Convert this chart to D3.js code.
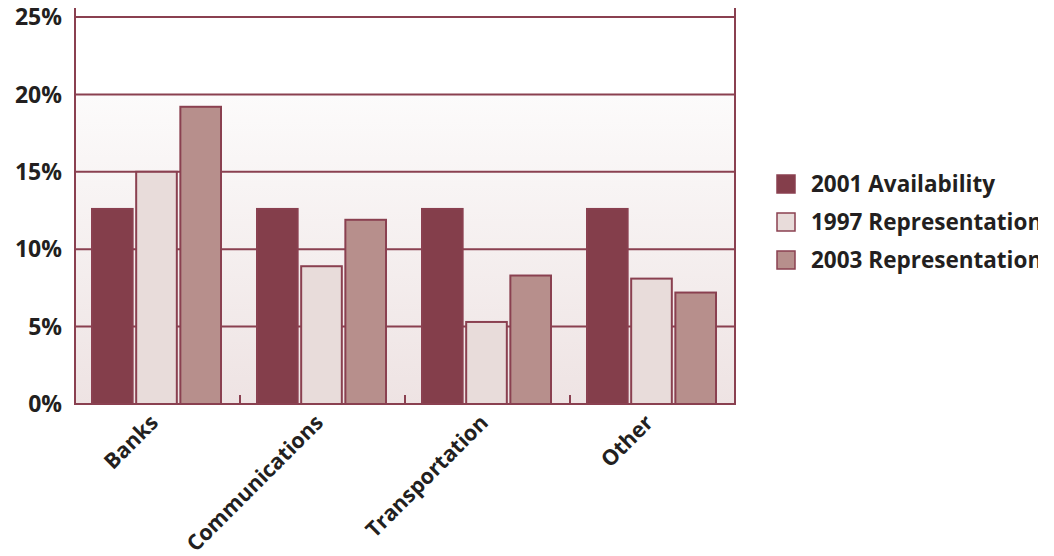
<!DOCTYPE html>
<html>
<head>
<meta charset="utf-8">
<script src="https://cdn.jsdelivr.net/npm/d3@7"></script>
<style>
  html, body { margin: 0; padding: 0; background: #fff; }
  svg { display: block; }
  text { font-family: "Open Sans", "Noto Sans", sans-serif; font-weight: 700; fill: #231f20; }
</style>
</head>
<body>
<svg id="chart" width="1054" height="556"></svg>
<script>
// Sector shares (%)
const categories = ["Banks", "Communications", "Transportation", "Other"];
const seriesNames = ["2001 Availability", "1997 Representation", "2003 Representation"];
const availability2001 = [12.6, 12.6, 12.6, 12.6];
const representation1997 = [15.0, 8.9, 5.3, 8.1];
const representation2003 = [19.2, 11.9, 8.3, 7.2];
const yTicks = [0, 5, 10, 15, 20, 25];

const seriesValues = [availability2001, representation1997, representation2003];
const fills = ["#843e4b", "#e8dcda", "#b78f8c"];
const lineColor = "#8a4050";

const svg = d3.select("#chart");
const W = 1054, H = 556;
const m = { left: 75, right: 735, top: 17, bottom: 404 };

const x = d3.scaleBand().domain(categories).range([m.left, m.right]).paddingInner(0).paddingOuter(0);
const xs = d3.scaleBand().domain(seriesNames).range([17, x.bandwidth() - 19]).paddingInner(0.08);
const y = d3.scaleLinear().domain([0, 25]).range([m.bottom, m.top]);

// Clip everything at the right page edge
svg.append("defs").append("clipPath").attr("id", "pageClip")
  .append("rect").attr("x", 0).attr("y", 0).attr("width", 1038).attr("height", H);

const grad = svg.select("defs").append("linearGradient")
  .attr("id", "bgGrad").attr("x1", 0).attr("y1", 0).attr("x2", 0).attr("y2", 1);
grad.append("stop").attr("offset", "0%").attr("stop-color", "#fcfbfb");
grad.append("stop").attr("offset", "100%").attr("stop-color", "#eee3e3");

const root = svg.append("g").attr("clip-path", "url(#pageClip)");

// Shaded plot background below the 20% line
root.append("rect")
  .attr("x", m.left).attr("y", y(20))
  .attr("width", m.right - m.left).attr("height", y(0) - y(20))
  .attr("fill", "url(#bgGrad)");

// Horizontal gridlines
root.append("g").selectAll("line").data(yTicks.filter(d => d > 0)).join("line")
  .attr("x1", m.left).attr("x2", m.right)
  .attr("y1", d => y(d)).attr("y2", d => y(d))
  .attr("stroke", lineColor).attr("stroke-width", 2);

// Category tick marks on the baseline
root.append("g").selectAll("line").data(categories.slice(1)).join("line")
  .attr("x1", d => x(d)).attr("x2", d => x(d))
  .attr("y1", m.bottom).attr("y2", m.bottom - 9)
  .attr("stroke", lineColor).attr("stroke-width", 2);

// Bars
const groups = root.append("g").selectAll("g").data(categories).join("g")
  .attr("transform", d => `translate(${x(d)},0)`);
groups.selectAll("rect")
  .data((c, ci) => seriesNames.map((s, si) => ({ s, si, v: seriesValues[si][ci] })))
  .join("rect")
  .attr("x", d => xs(d.s))
  .attr("width", xs.bandwidth())
  .attr("y", d => y(d.v))
  .attr("height", d => y(0) - y(d.v))
  .attr("fill", d => fills[d.si])
  .attr("stroke", lineColor).attr("stroke-width", 2);

// Frame: left / right verticals and baseline
root.append("line").attr("x1", m.left).attr("x2", m.left).attr("y1", 8).attr("y2", m.bottom + 1)
  .attr("stroke", lineColor).attr("stroke-width", 2);
root.append("line").attr("x1", m.right).attr("x2", m.right).attr("y1", 8).attr("y2", m.bottom + 1)
  .attr("stroke", lineColor).attr("stroke-width", 2);
root.append("line").attr("x1", m.left).attr("x2", m.right).attr("y1", m.bottom).attr("y2", m.bottom)
  .attr("stroke", lineColor).attr("stroke-width", 2);

// Y tick labels
root.append("g").selectAll("text").data(yTicks).join("text")
  .attr("x", 62).attr("y", d => y(d))
  .attr("dy", "0.36em")
  .attr("text-anchor", "end")
  .attr("font-size", 23)
  .text(d => d + "%");

// Rotated category labels
root.append("g").selectAll("text").data(categories).join("text")
  .attr("transform", d => `translate(${x(d) + x.bandwidth() / 2 + 2},${m.bottom + 20}) rotate(-45)`)
  .attr("text-anchor", "end")
  .attr("font-size", 21.5)
  .text(d => d);

// Legend
const legend = root.append("g").selectAll("g").data(seriesNames).join("g")
  .attr("transform", (d, i) => `translate(777,${175 + i * 38})`);
legend.append("rect")
  .attr("width", 18).attr("height", 18)
  .attr("fill", (d, i) => fills[i])
  .attr("stroke", lineColor).attr("stroke-width", 1.5);
legend.append("text")
  .attr("x", 34).attr("y", 9).attr("dy", "0.36em")
  .attr("font-size", 22.5)
  .text(d => d);
</script>
</body>
</html>
